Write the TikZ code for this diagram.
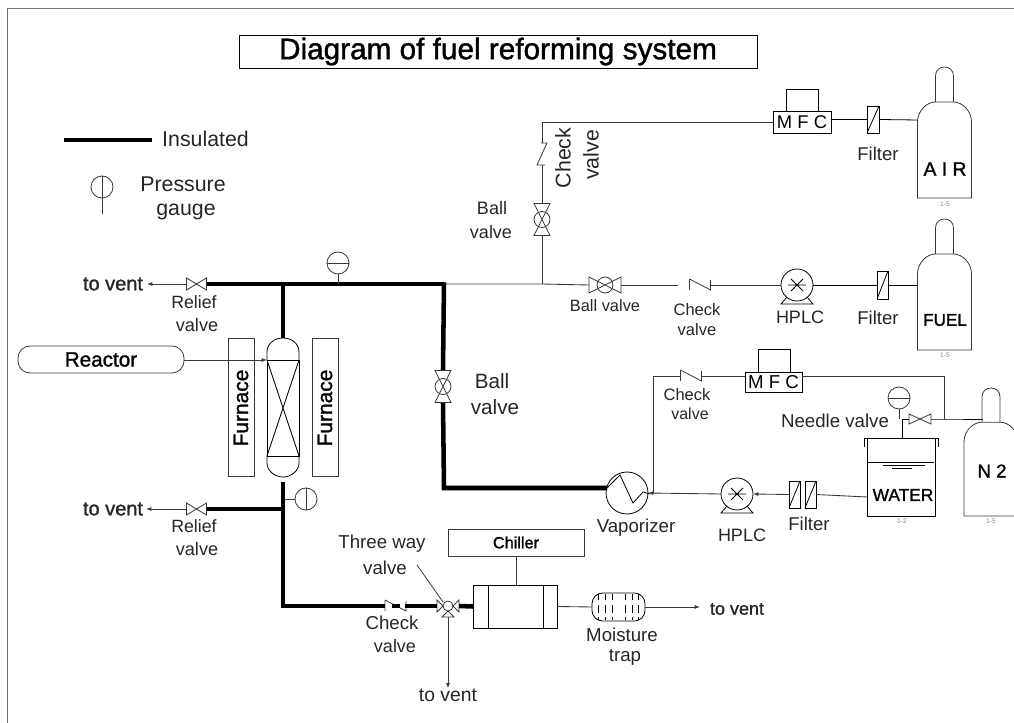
\documentclass[tikz,border=0pt]{standalone}
\usepackage{fontspec}
\setmainfont{Liberation Sans}
\newfontfamily\heavy{Liberation Sans}[FakeBold=1.3]
\usetikzlibrary{arrows.meta}
\definecolor{ink}{gray}{0.22}
\newcommand\fs[1]{\fontsize{#1}{#1}\selectfont}
\tikzset{
  x=0.75pt,y=-0.75pt,
  pipe/.style={draw=ink,line width=0.65pt},
  hot/.style={draw=black,line width=3.4pt,line cap=butt,line join=miter},
  part/.style={draw=black,line width=0.6pt},
  soft/.style={draw=ink,line width=0.6pt},
  lab/.style={inner sep=0pt,text=black!85,align=center},
  hlab/.style={inner sep=0pt,text=black,font=\heavy},
  tiny lab/.style={inner sep=0pt,text=black!50,font=\fs{5}},
  tip/.style={-{Latex[length=4pt,width=3pt]}},
  portbox/.style={inner sep=0pt,outer sep=0pt},
  bowtie/.pic={\draw[soft] (-10,-6)--(10,6)--(10,-6)--(-10,6)--cycle;},
  ballh/.pic={\draw[soft] (-16,-8)--(16,8)--(16,-8)--(-16,8)--cycle;
              \draw[soft] (0,0) circle (8);},
  ballv/.pic={\draw[soft] (-8,-16)--(8,16)--(-8,16)--(8,-16)--cycle;
              \draw[soft] (0,0) circle (8);},
  checkh/.pic={\draw[soft] (-10,-6)--(-10,5) (-10,-6)--(11,5)--(11,-5);},
  tank/.pic={\draw[soft] (-9,35)--(-9,9) .. controls (-9,-3) and (9,-3) .. (9,9)--(9,35);
    \draw[soft] (-27,131)--(-27,55) .. controls (-27,44) and (-18,35) .. (-9,35)--(9,35)
       .. controls (18,35) and (27,44) .. (27,55)--(27,131)--cycle;},
  pumpdet/.pic={\draw[part] (-9,0)--(9,0) (-6,-6)--(6,6) (-6,6)--(6,-6);
    \draw[part] (-10,12)--(-16,19)--(16,19)--(10,12);},
}
\newcommand\bx[6][]{\node[portbox,#1,minimum width={(#4-#2)*0.75pt},minimum height={(#5-#3)*0.75pt}] (#6) at ({(#2+#4)/2},{(#3+#5)/2}) {};}
\newcommand\bxt[7][]{\node[portbox,#1,minimum width={(#4-#2)*0.75pt},minimum height={(#5-#3)*0.75pt}] (#6) at ({(#2+#4)/2},{(#3+#5)/2}) {#7};}
\newcommand\rnd[5][part]{\node[portbox,circle,#1,minimum size={2*#4*0.75pt}] (#5) at (#2,#3) {};}
\newcommand\lb[5][]{\node[lab,font=\fs{#2},#1] (#5) at (#3) {#4};}
\begin{document}
\begin{tikzpicture}
\useasboundingbox (0,0) rectangle (1014,723);
% frame
\coordinate (fa) at (7,723); \coordinate (fb) at (7,8); \coordinate (fc) at (1014,8);
\draw[draw=black!55,line width=0.6pt] (fa)--(fb)--(fc);
% title
\bxt[part]{239}{35}{757}{68}{title}{\heavy\fs{22.3}Diagram of fuel reforming system}
% legend
\coordinate (la) at (64,140); \coordinate (lb) at (152,140);
\draw[hot] (la)--(lb);
\lb{16}{205.5,139}{Insulated}{tins}
\rnd[soft]{102}{187}{11}{lg}
\coordinate (lgb) at (102,214);
\draw[soft] (lg.north)--(lgb);
\lb{16}{183,184}{Pressure}{tp1}
\lb{16}{186,212}{gauge}{tp2}
% ---- reactor section
\bxt[soft,rounded corners=9pt]{18}{346}{184}{373}{reactor}{\heavy\fs{15.5}Reactor}
\bx[soft]{228}{338}{254}{476}{fl}
\bx[soft]{312}{338}{338}{476}{fr}
\node[hlab,font=\heavy\fs{15.7},rotate=90] (tfl) at (241,408) {Furnace};
\node[hlab,font=\heavy\fs{15.7},rotate=90] (tfr) at (325,408) {Furnace};
\bx[part]{267}{360}{299}{456}{bed}
\draw[part] (bed.north west)--(bed.south east) (bed.north east)--(bed.south west);
\coordinate (vtop) at (283,338); \coordinate (vbot) at (283,477);
\draw[part] (bed.north west)--(267,352) .. controls (267,343) and (275,338) .. (vtop) .. controls (291,338) and (299,343) .. (299,352)--(bed.north east);
\draw[part] (bed.south west)--(267,463) .. controls (267,471) and (275,477) .. (vbot) .. controls (291,477) and (299,471) .. (299,463)--(bed.south east);
\coordinate (rin) at (267,360);
\draw[pipe,tip] (reactor.east|-rin)--(rin);
% top header
\bx{186}{278}{207}{290}{rv1}
\pic at (rv1) {bowtie};
\node[lab,font=\heavy\fs{15}] (tv1) at (113,284) {to vent};
\coordinate (tv1x) at (147,284);
\draw[pipe,tip] (rv1.west)--(tv1x);
\lb{13.3}{194,302}{Relief}{tr1}
\lb{13.6}{197,325}{valve}{tr2}
\coordinate (j1) at (283,284); \coordinate (c1) at (444,284);
\coordinate (g1s) at (338,284);
\draw[hot] (rv1.east)--(j1)--(g1s)--(c1);
\draw[hot] (j1)--(vtop);
\rnd[soft]{338}{263}{11}{g1}
\draw[soft] (g1.west)--(g1.east) (g1.south)--(g1s);
% ball valve on hot riser
\bx{435}{370}{451}{403}{bv3}
\pic at (bv3) {ballv};
\lb{15.5}{492,381}{Ball}{tb31}
\lb{15.5}{495,407}{valve}{tb32}
\coordinate (c2) at (444,488);
\rnd[part]{627}{493}{21}{vap}
\coordinate (vin) at (607,488);
\draw[hot] (c1)++(0,-1.7) -- (bv3.north);
\draw[hot] (bv3.south)--(c2)--(vin);
\draw[part] (vin)--(620,475)--(633,503)--(643,492)--(650,494);
\lb{14}{636,528}{Vaporizer}{tvap}
% lower relief
\coordinate (j2) at (283,509); \coordinate (bstart) at (283,482); \coordinate (c3) at (283,606);
\coordinate (j3) at (283,499);
\bx{186}{503}{207}{515}{rv2}
\pic at (rv2) {bowtie};
\node[lab,font=\heavy\fs{15}] (tv2) at (113,509) {to vent};
\coordinate (tv2x) at (146,509);
\draw[pipe,tip] (rv2.west)--(tv2x);
\lb{13.3}{194,526}{Relief}{tr3}
\lb{13.6}{197,549}{valve}{tr4}
\draw[hot] (rv2.east)--(j2);
\rnd[soft]{306}{499}{11}{g2}
\draw[soft] (g2.north)--(g2.south) (g2.west)--(j3);
% bottom line
\bx{385}{600}{405}{612}{cv4}
\pic at (cv4) {checkh};
\bx{437}{600}{459}{617}{tw}
\coordinate (twc) at (448,606);
\rnd[soft]{448}{606}{5}{twb}
\draw[soft] (437,600)--(443,606)--(437,612)--cycle (459,600)--(453,606)--(459,612)--cycle (448,611)--(442,617)--(454,617)--cycle;
\bx[part]{473}{585}{557}{628}{hx}
\draw[part] (488,585)--(488,628) (543,585)--(543,628);
\draw[hot] (bstart)--(c3)--(cv4.west);
\draw[hot] (392,606)--(400,606);
\draw[hot] (cv4.east)--(437,606);
\draw[hot] (459,606)--(hx.west);
\lb{14}{392,623}{Check}{tc41}
\lb{13.5}{395,646}{valve}{tc42}
\lb{14}{382,544}{Three way}{tw1}
\lb{14}{385,568}{valve}{tw2}
\coordinate (ld1) at (417,565); \coordinate (ld2) at (443,602);
\draw[soft] (ld1)--(ld2);
\lb{14.5}{448,695}{to vent}{tv3}
\draw[pipe,tip] (448,617)--(tv3.north);
\bxt[soft]{448}{529}{584}{556}{chill}{\heavy\fs{12.2}Chiller}
\draw[soft] (chill.south)--(hx.north-|chill.south);
\node[portbox,part,rounded corners=8pt,minimum width={53*0.75pt},minimum height={28*0.75pt}] (trap) at (618.5,607) {};
\foreach \xx in {598,605,612,625,632,638}{\draw[part] (\xx,594)--(\xx,600) (\xx,605)--(\xx,613) (\xx,617)--(\xx,620);}
\draw[pipe] (hx.east)--(trap.west);
\lb{14}{622,635}{Moisture}{tm1}
\lb{14}{625,657}{trap}{tm2}
\node[lab,font=\heavy\fs{13.5}] (tv4) at (737,609) {to vent};
\coordinate (tv4x) at (700,607);
\draw[pipe,tip] (trap.east)--(tv4x);
% ---- air line
\coordinate (j4) at (542,284);
\bx{589}{277}{621}{293}{bv1}
\pic at (bv1) {ballh};
\lb{12.3}{605,306}{Ball valve}{tb11}
\draw[pipe] (c1)--(j4)--(bv1.west);
\bx{532}{203}{552}{236}{bv2}
\pic at (bv2) {ballv};
\lb{13.5}{492,208}{Ball}{tb21}
\lb{13.5}{491,232}{valve}{tb22}
\coordinate (cv2a) at (542,165); \coordinate (cv2b) at (542,143); \coordinate (c4) at (542,122);
\draw[pipe] (j4)--(bv2.south);
\draw[pipe] (bv2.north)--(cv2a);
\draw[soft] (537,165)--(545,165) (537,165)--(547,143)--(541,143);
\draw[pipe] (cv2b)--(c4);
\node[lab,font=\fs{16},rotate=90] (tc21) at (563,158) {Check};
\node[lab,font=\fs{16},rotate=90] (tc22) at (591,155) {valve};
\bxt[part]{773}{111}{831}{133}{mfc1}{\fs{13.8}M F C}
\bx[part]{786}{89}{818}{111}{mfc1t}
\coordinate (m1l) at (773,122);
\draw[pipe] (c4)--(m1l);
\bx[part]{867}{106}{879}{133}{f1}
\draw[part] (f1.south west)--(f1.north east);
\draw[part] (mfc1.east|-f1.west)--(f1.west);
\lb{13.9}{878,154}{Filter}{tf1}
\pic at (944.5,67) {tank};
\coordinate (airp) at (917.5,120);
\draw[part] (f1.east)--(airp);
\node[hlab,font=\heavy\fs{14.5}] (tair) at (945,169) {A I R};
\node[tiny lab] (tya) at (945,204) {1-5};
% ---- fuel line
\bx{678}{279}{711}{291}{cv1}
\pic at (699.5,285) {checkh};
\draw[pipe] (bv1.east)--(cv1.west);
\lb{12.4}{697,310}{Check}{tc11}
\lb{12.4}{697,330}{valve}{tc12}
\rnd[part]{797}{285}{16}{p1}
\pic at (p1) {pumpdet};
\draw[pipe] (cv1.east)--(p1.west);
\lb{13.5}{800,317}{HPLC}{tp11}
\bx[part]{877}{271}{888}{299}{f2}
\draw[part] (f2.south west)--(f2.north east);
\draw[part] (p1.east)--(f2.west);
\lb{13.9}{878,318}{Filter}{tf2}
\pic at (944.5,219) {tank};
\coordinate (fuelp) at (917.5,285);
\draw[part] (f2.east)--(fuelp);
\node[hlab,font=\heavy\fs{12.8}] (tfuel) at (945,320) {FUEL};
\node[tiny lab] (tyf) at (945,355) {1-5};
% ---- vaporizer loop
\rnd[part]{737}{494}{16}{p2}
\pic at (p2) {pumpdet};
\lb{13.5}{742,535}{HPLC}{tp21}
\draw[pipe,tip] (p2.west)--(vap.east);
\bx[part]{789}{481}{800}{508}{f3}
\bx[part]{805}{481}{816}{508}{f4}
\draw[part] (f3.south west)--(f3.north east) (f4.south west)--(f4.north east);
\lb{13.9}{809,524}{Filter}{tf3}
\draw[pipe,tip] (f3.west)--(p2.east);
% water
\bxt[part]{867}{438}{935}{516}{water}{}
\node[hlab,font=\heavy\fs{13}] (twat) at (903,495) {WATER};
\node[tiny lab] (tyw) at (902,521) {1-2};
\draw[part] (864,447)--(864,438)--(938,438)--(938,447);
\draw[part] (868,462)--(934,462) (883,465)--(925,465) (892,468)--(912,468);
\coordinate (wl) at (867,497);
\draw[pipe] (f4.east)--(wl);
% mfc 2
\bxt[part]{745}{372}{802}{392}{mfc2}{\fs{14}M F C}
\bx[part]{758}{349}{790}{372}{mfc2t}
\bx{680}{370}{701}{382}{cv3}
\pic at (cv3) {checkh};
\coordinate (c5) at (653,376); \coordinate (c6) at (653,493);
\coordinate (m2l) at (745,376); \coordinate (m2r) at (802,376);
\draw[pipe] (m2l)--(cv3.east);
\draw[pipe] (cv3.west)--(c5)--(c6);
\lb{12.4}{687,395}{Check}{tc31}
\lb{12}{690,414}{valve}{tc32}
% needle + N2
\bx{909}{414}{931}{424}{nv}
\draw[soft] (nv.north west)--(nv.south east)--(nv.north east)--(nv.south west)--cycle;
\lb{14}{835,421}{Needle valve}{tnv}
\rnd[soft]{899}{398}{11}{g3}
\draw[soft] (g3.west)--(g3.east);
\coordinate (wt) at (902,438); \coordinate (c7) at (902,419);
\draw[part] (wt)--(c7)--(nv.west);
\draw[soft] (g3.south)--(g3.south|-c7);
\pic[yscale=0.977] at (991,388) {tank};
\coordinate (n2p) at (983,419); \coordinate (j5) at (944,419); \coordinate (c8) at (944,376);
\draw[part] (nv.east)--(j5)--(n2p);
\draw[pipe] (m2r)--(c8)--(j5);
\node[hlab,font=\heavy\fs{14}] (tn2) at (992,471) {N 2};
\node[tiny lab] (tyn) at (991,521) {1-5};
\end{tikzpicture}
\end{document}
